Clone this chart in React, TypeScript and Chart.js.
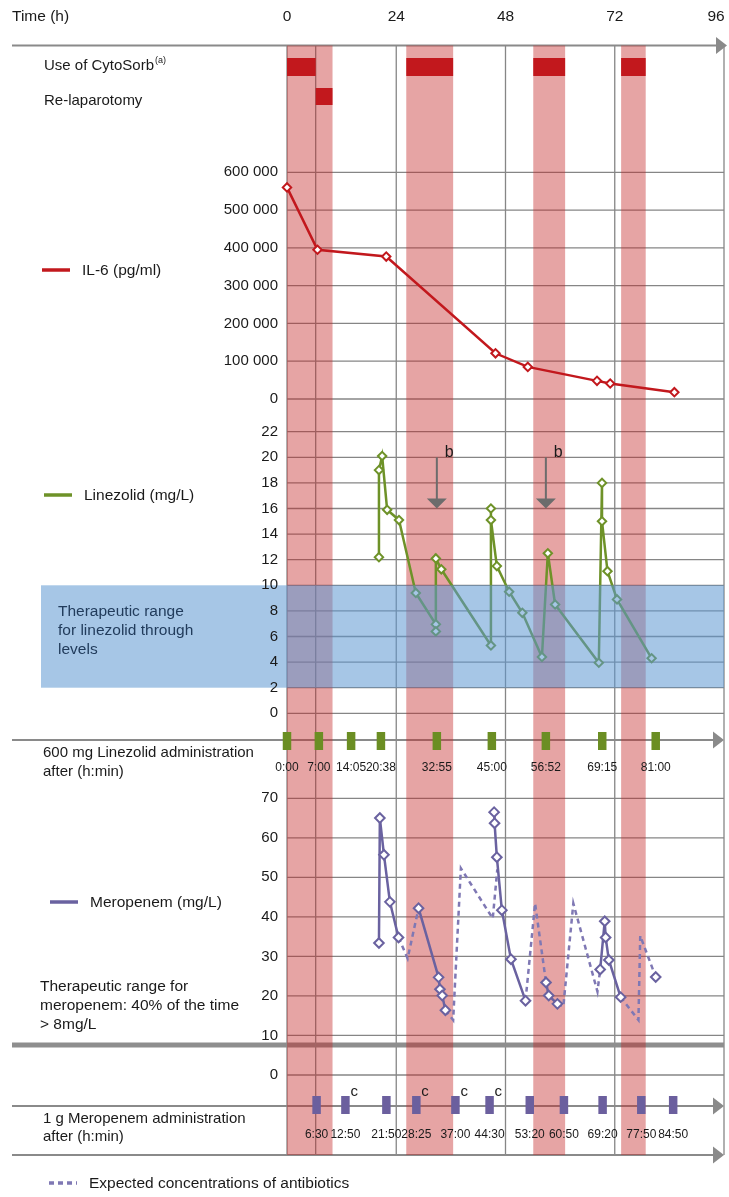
import React, { useEffect, useRef } from "react";
import { Chart, registerables } from "chart.js";

Chart.register(...registerables);

// ---------------- data ----------------
const timeTicks = [0, 24, 48, 72, 96];

const cytosorbStart = [0, 26.2, 54.1, 73.4];
const cytosorbEnd = [6.3, 36.5, 61.1, 78.8];
const relapStart = [6.3];
const relapEnd = [10.0];

const il6Times = [0, 6.7, 21.8, 45.8, 52.9, 68.1, 71.0, 85.1];
const il6Values = [560000, 395000, 377000, 121000, 85000, 48000, 41000, 18000];
const il6Ticks = [0, 100000, 200000, 300000, 400000, 500000, 600000];

const lzTimes = [20.2, 20.2, 20.9, 22.0, 24.6, 28.3, 32.7, 32.7, 32.7, 33.9, 44.8, 44.8, 44.8, 46.1, 48.8, 51.7, 56.0, 57.3, 58.9, 68.5, 69.2, 69.2, 70.4, 72.5, 80.1];
const lzValues = [12.2, 19.0, 20.1, 15.9, 15.1, 9.4, 6.95, 6.4, 12.1, 11.25, 5.3, 16.0, 15.1, 11.5, 9.5, 7.85, 4.4, 12.5, 8.5, 3.95, 18.0, 15.0, 11.1, 8.9, 4.3];
const lzTicks = [0, 2, 4, 6, 8, 10, 12, 14, 16, 18, 20, 22];
const lzTherapeuticLow = 2;
const lzTherapeuticHigh = 10;
const lzAdminLabels = ["0:00", "7:00", "14:05", "20:38", "32:55", "45:00", "56:52", "69:15", "81:00"];
const lzNoteB = ["32:55", "56:52"];
const lzNoteBFrom = 20;
const lzNoteBTo = 16;

const mpTimes = [20.2, 20.4, 21.3, 22.6, 24.5, 26.5, 28.9, 33.3, 33.6, 34.1, 34.8, 40.0, 45.5, 45.6, 46.1, 47.2, 49.2, 52.4, 54.5, 56.9, 57.5, 59.4, 64.0, 68.8, 69.8, 70.0, 70.7, 73.3, 77.0, 81.0];
const mpValues = [33.4, 65.0, 55.7, 43.8, 34.8, null, 42.2, 24.7, 21.7, 20.1, 16.4, null, 66.5, 63.7, 55.1, 41.7, 29.3, 18.8, null, 23.4, 20.1, 18.0, null, 26.7, 38.9, 34.8, 29.1, 19.7, null, 24.8];
const mpExpTimes = [24.5, 26.5, 28.9, 31.0, 34.8, 36.5, 38.2, 45.2, 46.2, 50.0, 52.4, 54.5, 56.9, 58.0, 59.4, 60.7, 62.9, 68.2, 68.8, 71.0, 73.3, 77.2, 77.6, 81.0];
const mpExpValues = [34.8, 29.5, 42.2, null, 16.4, 13.9, 52.3, 39.6, 52.0, null, 18.8, 43.4, 23.4, null, 18.0, 17.3, 43.4, 21.1, 26.7, null, 19.7, 13.9, 35.2, 24.8];
const mpTicks = [0, 10, 20, 30, 40, 50, 60, 70];
const mpAdminLabels = ["6:30", "12:50", "21:50", "28:25", "37:00", "44:30", "53:20", "60:50", "69:20", "77:50", "84:50"];
const mpNoteC = ["12:50", "28:25", "37:00", "44:30"];

// ---------------- layout / style ----------------
const W = 729;
const H = 1197;
const AREA = { left: 287, right: 724, top: 45, bottom: 1160 };
const IL_PX = { v0: 0, p0: 399, v1: 600000, p1: 172.3 };
const LZ_PX = { v0: 0, p0: 713.3, v1: 22, p1: 431.7 };
const MP_PX = { v0: 0, p0: 1075, v1: 70, p1: 798.3 };
const LANE = {
  topAxis: 45.5,
  cytoTop: 58, cytoBottom: 76,
  relapTop: 88, relapBottom: 105,
  lzAxis: 740, lzAdmin: 741, lzLabel: 768,
  scaleBreak: 1045,
  mpAxis: 1106, mpAdmin: 1105, mpLabel: 1135, mpNote: 1092,
  bottomAxis: 1155,
};

const RED = "#c2181d";
const GREEN = "#6e9228";
const PURPLE = "#6a62a0";
const GRID = "#868686";
const AXIS = "#8a8a8a";
const TEXT = "#1a1a1a";
const FAM = '"Liberation Sans", Arial, Helvetica, sans-serif';
const font = (s: number) => `${s}px ${FAM}`;

function rangeFor(a: { v0: number; p0: number; v1: number; p1: number }) {
  const k = (a.v1 - a.v0) / (a.p0 - a.p1);
  return { min: a.v0 - (AREA.bottom - a.p0) * k, max: a.v0 + (a.p0 - AREA.top) * k };
}
function parseHM(s: string) {
  const [h, m] = s.split(":").map(Number);
  return h + m / 60;
}
function fmtThousands(v: number) {
  return String(v).replace(/\B(?=(\d{3})+(?!\d))/g, " ");
}
function pts(xs: number[], ys: (number | null)[]) {
  return xs.map((x, i) => ({ x, y: ys[i] }));
}

const overlay = {
  id: "overlay",
  beforeDatasetsDraw(chart: any) {
    const ctx = chart.ctx as CanvasRenderingContext2D;
    const sx = chart.scales.x;
    const yIL = chart.scales.yIL;
    const yLZ = chart.scales.yLZ;
    const yMP = chart.scales.yMP;
    const yL = chart.scales.yLane;
    const x0 = sx.getPixelForValue(0);
    const x96 = sx.getPixelForValue(96);
    ctx.save();
    // horizontal grid lines
    ctx.strokeStyle = GRID;
    ctx.lineWidth = 1.3;
    const hline = (y: number) => {
      ctx.beginPath();
      ctx.moveTo(x0, y);
      ctx.lineTo(x96, y);
      ctx.stroke();
    };
    il6Ticks.forEach((v) => hline(yIL.getPixelForValue(v)));
    lzTicks.forEach((v) => hline(yLZ.getPixelForValue(v)));
    mpTicks.forEach((v) => hline(yMP.getPixelForValue(v)));
    // vertical lines
    const yTop = yL.getPixelForValue(LANE.topAxis);
    const yBot = yL.getPixelForValue(LANE.bottomAxis);
    [...timeTicks, ...relapStart].forEach((t) => {
      const px = sx.getPixelForValue(t);
      ctx.beginPath();
      ctx.moveTo(px, yTop);
      ctx.lineTo(px, yBot);
      ctx.stroke();
    });
    // arrow axes
    ctx.strokeStyle = AXIS;
    ctx.fillStyle = AXIS;
    ctx.lineWidth = 2;
    const arrowAxis = (lane: number, tip: number) => {
      const y = yL.getPixelForValue(lane);
      ctx.beginPath();
      ctx.moveTo(12, y);
      ctx.lineTo(tip - 10, y);
      ctx.stroke();
      ctx.beginPath();
      ctx.moveTo(tip - 11, y - 8.5);
      ctx.lineTo(tip, y);
      ctx.lineTo(tip - 11, y + 8.5);
      ctx.closePath();
      ctx.fill();
    };
    arrowAxis(LANE.topAxis, 727);
    arrowAxis(LANE.lzAxis, 724);
    arrowAxis(LANE.mpAxis, 724);
    arrowAxis(LANE.bottomAxis, 724);
    // scale break
    ctx.lineWidth = 5;
    ctx.strokeStyle = "#8e8e8e";
    ctx.beginPath();
    const yb = yL.getPixelForValue(LANE.scaleBreak);
    ctx.moveTo(12, yb);
    ctx.lineTo(x96, yb);
    ctx.stroke();
    // shaded bands
    ctx.fillStyle = "rgba(196,38,38,0.42)";
    const band = (a: number, b: number) => {
      const pa = sx.getPixelForValue(a);
      const pb = sx.getPixelForValue(b);
      ctx.fillRect(pa, yTop, pb - pa, yBot - yTop);
    };
    cytosorbStart.forEach((s, i) => band(s, cytosorbEnd[i]));
    relapStart.forEach((s, i) => band(s, relapEnd[i]));
    // event bars
    ctx.fillStyle = RED;
    const bar = (a: number, b: number, top: number, bottom: number) => {
      const pa = sx.getPixelForValue(a);
      const pb = sx.getPixelForValue(b);
      const t = yL.getPixelForValue(top);
      const bt = yL.getPixelForValue(bottom);
      ctx.fillRect(pa, t, pb - pa, bt - t);
    };
    cytosorbStart.forEach((s, i) => bar(s, cytosorbEnd[i], LANE.cytoTop, LANE.cytoBottom));
    relapStart.forEach((s, i) => bar(s, relapEnd[i], LANE.relapTop, LANE.relapBottom));
    ctx.restore();
  },
  afterDatasetsDraw(chart: any) {
    const ctx = chart.ctx as CanvasRenderingContext2D;
    const sx = chart.scales.x;
    const yIL = chart.scales.yIL;
    const yLZ = chart.scales.yLZ;
    const yMP = chart.scales.yMP;
    const yL = chart.scales.yLane;
    ctx.save();
    // therapeutic range box (linezolid)
    const bTop = yLZ.getPixelForValue(lzTherapeuticHigh);
    const bBot = yLZ.getPixelForValue(lzTherapeuticLow);
    ctx.fillStyle = "rgba(92,152,210,0.55)";
    ctx.fillRect(41, bTop, sx.getPixelForValue(96) - 41, bBot - bTop);

    ctx.textBaseline = "middle";
    ctx.fillStyle = TEXT;
    // top time labels
    ctx.font = font(15.5);
    ctx.textAlign = "left";
    ctx.fillText("Time (h)", 12, 17);
    ctx.textAlign = "center";
    timeTicks.forEach((t) => ctx.fillText(String(t), Math.min(sx.getPixelForValue(t), W - 13), 17));

    // y tick labels
    ctx.textAlign = "right";
    ctx.font = font(15);
    il6Ticks.forEach((v) => ctx.fillText(fmtThousands(v), 278, yIL.getPixelForValue(v)));
    lzTicks.forEach((v) => ctx.fillText(String(v), 278, yLZ.getPixelForValue(v)));
    mpTicks.forEach((v) => ctx.fillText(String(v), 278, yMP.getPixelForValue(v)));

    // row labels
    ctx.textAlign = "left";
    ctx.font = font(15);
    ctx.fillText("Use of CytoSorb", 44, 66);
    const w = ctx.measureText("Use of CytoSorb").width;
    ctx.font = font(9);
    ctx.fillText("(a)", 44 + w + 1, 61);
    ctx.font = font(15);
    ctx.fillText("Re-laparotomy", 44, 101);

    // legends
    const legend = (x1: number, x2: number, y: number, color: string, label: string, dash?: number[]) => {
      ctx.save();
      ctx.strokeStyle = color;
      ctx.lineWidth = 3.5;
      if (dash) ctx.setLineDash(dash);
      ctx.beginPath();
      ctx.moveTo(x1, y);
      ctx.lineTo(x2, y);
      ctx.stroke();
      ctx.restore();
      ctx.fillStyle = TEXT;
      ctx.font = font(15.5);
      ctx.textAlign = "left";
      ctx.fillText(label, x2 + 12, y + 1);
    };
    legend(42, 70, 270, RED, "IL-6 (pg/ml)");
    legend(44, 72, 495, GREEN, "Linezolid (mg/L)");
    legend(50, 78, 902, PURPLE, "Meropenem (mg/L)");
    legend(49, 77, 1183, "#7f78b4", "Expected concentrations of antibiotics", [5, 4]);

    // therapeutic range texts
    ctx.font = font(15.5);
    ctx.fillStyle = "#223c5c";
    ["Therapeutic range", "for linezolid through", "levels"].forEach((s, i) => ctx.fillText(s, 58, 612 + i * 19));
    ctx.fillStyle = TEXT;
    ["Therapeutic range for", "meropenem: 40% of the time", "> 8mg/L"].forEach((s, i) => ctx.fillText(s, 40, 987 + i * 19));

    // administration labels
    ctx.font = font(15);
    ctx.fillText("600 mg Linezolid administration", 43, 753);
    ctx.fillText("after (h:min)", 43, 772);
    ctx.fillText("1 g Meropenem administration", 43, 1119);
    ctx.fillText("after (h:min)", 43, 1137);

    ctx.font = font(12);
    ctx.textAlign = "center";
    lzAdminLabels.forEach((s) => ctx.fillText(s, sx.getPixelForValue(parseHM(s)), yL.getPixelForValue(LANE.lzLabel)));
    mpAdminLabels.forEach((s) => ctx.fillText(s, sx.getPixelForValue(parseHM(s)), yL.getPixelForValue(LANE.mpLabel)));

    // footnote c
    ctx.font = font(15);
    ctx.textAlign = "left";
    mpNoteC.forEach((s) => ctx.fillText("c", sx.getPixelForValue(parseHM(s)) + 5, yL.getPixelForValue(LANE.mpNote)));

    // arrows b
    lzNoteB.forEach((s) => {
      const px = sx.getPixelForValue(parseHM(s));
      const ya = yLZ.getPixelForValue(lzNoteBFrom);
      const yb = yLZ.getPixelForValue(lzNoteBTo);
      ctx.strokeStyle = "#6c6c6c";
      ctx.fillStyle = "#6c6c6c";
      ctx.lineWidth = 2;
      ctx.beginPath();
      ctx.moveTo(px, ya);
      ctx.lineTo(px, yb - 9);
      ctx.stroke();
      ctx.beginPath();
      ctx.moveTo(px - 10, yb - 10);
      ctx.lineTo(px + 10, yb - 10);
      ctx.lineTo(px, yb);
      ctx.closePath();
      ctx.fill();
      ctx.fillStyle = TEXT;
      ctx.font = font(16);
      ctx.fillText("b", px + 8, ya - 5);
    });
    ctx.restore();
  },
};

export default function App() {
  const ref = useRef<HTMLCanvasElement>(null);
  useEffect(() => {
    if (!ref.current) return;
    const markerOpts = (color: string, r: number) => ({
      pointStyle: "rectRot",
      pointRadius: r,
      pointBorderWidth: 2,
      pointBackgroundColor: "#ffffff",
      pointBorderColor: color,
    });
    const chart = new Chart(ref.current, {
      type: "line",
      data: {
        datasets: [
          {
            label: "IL-6 (pg/ml)",
            data: pts(il6Times, il6Values),
            yAxisID: "yIL",
            borderColor: RED,
            borderWidth: 2.5,
            clip: false,
            ...markerOpts(RED, 4.2),
          },
          {
            label: "Linezolid (mg/L)",
            data: pts(lzTimes, lzValues),
            yAxisID: "yLZ",
            borderColor: GREEN,
            borderWidth: 2.5,
            clip: false,
            ...markerOpts(GREEN, 4.2),
          },
          {
            label: "Meropenem (mg/L)",
            data: pts(mpTimes, mpValues),
            yAxisID: "yMP",
            borderColor: PURPLE,
            borderWidth: 2.5,
            spanGaps: false,
            clip: false,
            ...markerOpts(PURPLE, 4.8),
          },
          {
            label: "Expected concentrations",
            data: pts(mpExpTimes, mpExpValues),
            yAxisID: "yMP",
            borderColor: "#7f78b4",
            borderWidth: 2.5,
            borderDash: [5, 4],
            pointRadius: 0,
            spanGaps: false,
            clip: false,
          },
          {
            label: "Linezolid administration",
            data: lzAdminLabels.map((s) => ({ x: parseHM(s), y: LANE.lzAdmin })),
            yAxisID: "yLane",
            showLine: false,
            pointStyle: "line",
            pointRotation: 90,
            pointRadius: 9,
            pointBorderWidth: 8.5,
            pointBorderColor: "#6b8e23",
            clip: false,
          },
          {
            label: "Meropenem administration",
            data: mpAdminLabels.map((s) => ({ x: parseHM(s), y: LANE.mpAdmin })),
            yAxisID: "yLane",
            showLine: false,
            pointStyle: "line",
            pointRotation: 90,
            pointRadius: 9,
            pointBorderWidth: 8.5,
            pointBorderColor: "#6b5f9e",
            clip: false,
          },
        ] as any,
      },
      options: {
        animation: false,
        responsive: false,
        devicePixelRatio: 1,
        events: [],
        layout: {
          autoPadding: false,
          padding: { left: AREA.left, right: W - AREA.right, top: AREA.top, bottom: H - AREA.bottom },
        },
        plugins: { legend: { display: false }, tooltip: { enabled: false } },
        elements: { line: { tension: 0 } },
        scales: {
          x: { type: "linear", min: 0, max: 96, display: false },
          yIL: { type: "linear", display: false, ...rangeFor(IL_PX) },
          yLZ: { type: "linear", display: false, ...rangeFor(LZ_PX) },
          yMP: { type: "linear", display: false, ...rangeFor(MP_PX) },
          yLane: { type: "linear", display: false, min: AREA.top, max: AREA.bottom, reverse: true },
        },
      } as any,
      plugins: [overlay],
    });
    return () => chart.destroy();
  }, []);
  return (
    <div style={{ position: "absolute", left: 0, top: 0, width: W, height: H, background: "#fff" }}>
      <canvas ref={ref} width={W} height={H} style={{ width: W, height: H, display: "block" }} />
    </div>
  );
}
